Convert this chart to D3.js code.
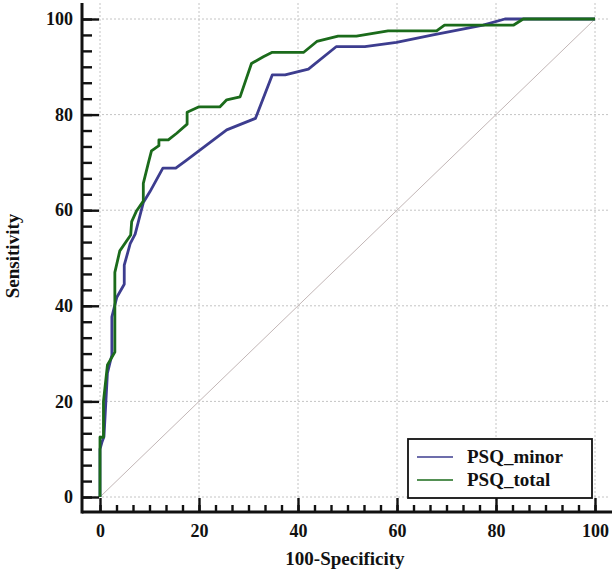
<!DOCTYPE html>
<html>
<head>
<meta charset="utf-8">
<script src="https://cdn.jsdelivr.net/npm/d3@7"></script>
<style>
  body { margin: 0; background: #fff; }
  text { font-family: "Liberation Serif", "Times New Roman", serif; font-weight: bold; }
</style>
</head>
<body>
<svg id="chart" width="613" height="573"></svg>
<script>
// ROC curves (100-Specificity, Sensitivity)
const minorSpec = [0, 0, 0.4, 0.8, 1.5, 2.4, 2.4, 3.4, 4.9, 4.9, 6.1, 7.1, 8.75, 10.1, 12.7, 15.3, 17.5, 25.6, 31.4, 34.8, 37.4, 42.1, 47.7, 53.5, 59.9, 67.3, 77.4, 81.8, 100];
const minorSens = [0, 10, 11.5, 12.6, 25.9, 29.7, 37.7, 41.8, 44.5, 48.5, 53, 55, 61.6, 63.9, 68.8, 68.8, 70.5, 76.8, 79.2, 88.3, 88.3, 89.5, 94.2, 94.2, 95.1, 96.7, 98.7, 100, 100];

const totalSpec = [0, 0, 0.7, 0.7, 1.5, 3.0, 3.0, 4.0, 6.2, 6.4, 7.4, 8.75, 8.75, 9.75, 10.4, 11.9, 11.9, 13.8, 15.5, 17.6, 17.6, 19.9, 24.2, 25.6, 28.3, 30.6, 33, 34.7, 41.1, 43.8, 48.1, 51.8, 58.2, 68, 69.6, 83.5, 85.5, 100];
const totalSens = [0, 12.5, 12.5, 20, 27.6, 30.3, 47, 51.5, 54.8, 57.6, 59.9, 61.9, 65.6, 69.8, 72.4, 73.5, 74.7, 74.7, 76.1, 78, 80.5, 81.6, 81.6, 83.1, 83.7, 90.7, 92.1, 93, 93, 95.3, 96.4, 96.4, 97.5, 97.5, 98.7, 98.7, 100, 100];

const seriesNames = ["PSQ_minor", "PSQ_total"];
const seriesColors = ["#3d3d8f", "#1b6b1b"];
const majorTicks = [0, 20, 40, 60, 80, 100];

const svg = d3.select("#chart");

const x = d3.scaleLinear().domain([0, 100]).range([100, 595]);
const y = d3.scaleLinear().domain([0, 100]).range([497, 19]);

const axisX = 512, axisY = 82;

// grid
const grid = svg.append("g")
  .attr("stroke", "#c4c4c4")
  .attr("stroke-width", 1)
  .attr("stroke-dasharray", "2,2");
grid.selectAll(".gv").data(majorTicks).enter().append("line")
  .attr("x1", d => x(d)).attr("x2", d => x(d))
  .attr("y1", 3).attr("y2", axisX);
grid.selectAll(".gh").data(majorTicks).enter().append("line")
  .attr("y1", d => y(d)).attr("y2", d => y(d))
  .attr("x1", axisY).attr("x2", 608);

// diagonal reference
svg.append("line")
  .attr("x1", x(0)).attr("y1", y(0))
  .attr("x2", x(100)).attr("y2", y(100))
  .attr("stroke", "#c2b6b6")
  .attr("stroke-width", 1);

// curves
const line = d3.line().x(d => x(d[0])).y(d => y(d[1]));
const minorPts = minorSpec.map((v, i) => [v, minorSens[i]]);
const totalPts = totalSpec.map((v, i) => [v, totalSens[i]]);

[minorPts, totalPts].forEach((pts, i) => {
  svg.append("path")
    .datum(pts)
    .attr("d", line)
    .attr("fill", "none")
    .attr("stroke", seriesColors[i])
    .attr("stroke-width", 2.8)
    .attr("stroke-linejoin", "round");
});

// axes
const minorVals = d3.range(0, 31).map(i => i * 100 / 30);

const xMinor = svg.append("g").attr("transform", `translate(0,${axisX})`)
  .call(d3.axisBottom(x).tickValues(minorVals).tickFormat("").tickSize(-7).tickSizeOuter(0));
const xMajor = svg.append("g").attr("transform", `translate(0,${axisX})`)
  .call(d3.axisBottom(x).tickValues(majorTicks).tickSize(-14).tickSizeOuter(0).tickPadding(12));

const yMinor = svg.append("g").attr("transform", `translate(${axisY},0)`)
  .call(d3.axisLeft(y).tickValues(minorVals).tickFormat("").tickSize(-10).tickSizeOuter(0));
const yMajor = svg.append("g").attr("transform", `translate(${axisY},0)`)
  .call(d3.axisLeft(y).tickValues(majorTicks).tickSize(-17).tickSizeOuter(0).tickPadding(9));

[xMinor, xMajor, yMinor, yMajor].forEach(g => {
  g.select(".domain").remove();
  g.selectAll(".tick line").attr("stroke", "#111").attr("stroke-width", 2.4);
  g.selectAll(".tick text")
    .attr("fill", "#111")
    .style("font-family", "'Liberation Serif', 'Times New Roman', serif")
    .style("font-weight", "bold")
    .style("font-size", "18px");
});

// axis lines
svg.append("line")
  .attr("x1", axisY).attr("x2", 612)
  .attr("y1", axisX).attr("y2", axisX)
  .attr("stroke", "#111").attr("stroke-width", 3);
svg.append("line")
  .attr("x1", axisY).attr("x2", axisY)
  .attr("y1", 3).attr("y2", axisX + 1.5)
  .attr("stroke", "#111").attr("stroke-width", 3);

// axis titles
svg.append("text")
  .attr("x", 345).attr("y", 565)
  .attr("text-anchor", "middle")
  .attr("font-size", 19)
  .attr("fill", "#111")
  .text("100-Specificity");

svg.append("text")
  .attr("transform", "translate(19,256) rotate(-90)")
  .attr("text-anchor", "middle")
  .attr("font-size", 19)
  .attr("fill", "#111")
  .text("Sensitivity");

// legend
const legend = svg.append("g");
legend.append("rect")
  .attr("x", 408).attr("y", 439)
  .attr("width", 184).attr("height", 59)
  .attr("fill", "#fff")
  .attr("stroke", "#111")
  .attr("stroke-width", 1.8);

seriesNames.forEach((name, i) => {
  const ly = 457 + i * 23;
  legend.append("line")
    .attr("x1", 417).attr("x2", 453)
    .attr("y1", ly).attr("y2", ly)
    .attr("stroke", seriesColors[i])
    .attr("stroke-width", 1.6);
  legend.append("text")
    .attr("x", 467).attr("y", ly + 6)
    .attr("font-size", 19)
    .attr("fill", "#111")
    .text(name);
});
</script>
</body>
</html>
